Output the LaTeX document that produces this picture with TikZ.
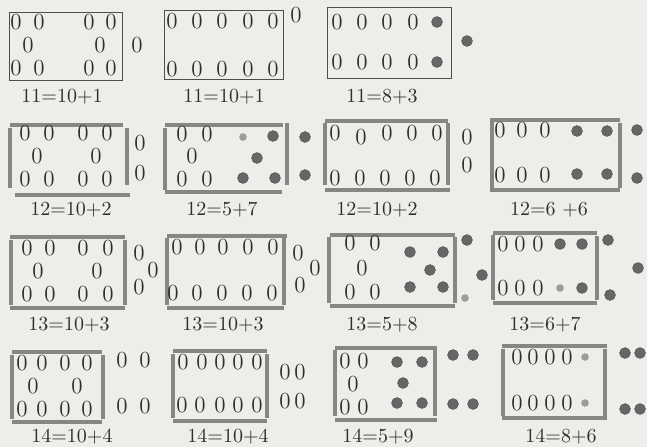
\documentclass[tikz,border=0pt]{standalone}
\definecolor{paper}{HTML}{EDEDEA}
\definecolor{ink}{HTML}{2E2E2E}
\definecolor{barc}{HTML}{868684}
\definecolor{dotc}{HTML}{666666}
\begin{document}
\begin{tikzpicture}[
  x=0.5pt,y=-0.5pt,
  ring/.style={inner sep=0pt,text=ink,font=\fontsize{11.5}{12}\selectfont},
  dot/.style={circle,inner sep=0pt,minimum size=5.4pt,fill=dotc,draw=dotc!85!black,line width=0.3pt},
  sdot/.style={circle,inner sep=0pt,minimum size=3.8pt,fill=dotc!65},
  lbl/.style={font=\fontsize{10}{12}\selectfont,text=ink},
  rim/.style={draw=ink!85,line width=0.5pt},
  bar/.style={draw=barc,line width=1.7pt},
]
\fill[paper] (0,0) rectangle (647,447);
\useasboundingbox (0,0) rectangle (647,447);

% ----- row 1 -----
\draw[rim] (9,12) rectangle (122,80);
\foreach \x/\y [count=\k] in {16/22,39/22,89/22,111/22,28/45,100/45,16/68,39/68,89/68,111/68,137/45}
  \node[ring] (a\k) at (\x,\y) {0};
\node[lbl] (la) at (62,97) {11=10+1};

\draw[rim] (164,10) rectangle (283,79);
\foreach \x/\y [count=\k] in {172/21,197/21,222/21,248/21,273/21,172/69,197/69,222/69,248/69,273/69,296/15}
  \node[ring] (b\k) at (\x,\y) {0};
\node[lbl] (lb) at (224,97) {11=10+1};

\draw[rim] (327,7) rectangle (451,78);
\foreach \x/\y [count=\k] in {337/22,362/22,387/22,413/22,337/62,362/62,387/62,413/62}
  \node[ring] (c\k) at (\x,\y) {0};
\foreach \x/\y [count=\k] in {437/22,437/62,467/41}
  \node[dot] (cd\k) at (\x,\y) {};
\node[lbl] (lc) at (382,97) {11=8+3};

% ----- row 2 -----
\draw[bar] (10,125) -- (123,125);
\draw[bar] (15,195) -- (130,195);
\draw[bar] (10,128) -- (10,188);
\draw[bar] (127,128) -- (127,185);
\foreach \x/\y [count=\k] in {25/133,49/133,83/133,107/133,37/156,96/156,25/179,49/179,83/179,107/179,140/143,140/173}
  \node[ring] (d\k) at (\x,\y) {0};
\node[lbl] (ld) at (71,210) {12=10+2};

\draw[bar] (165,125) -- (283,125);
\draw[bar] (165,192) -- (282,192);
\draw[bar] (165,128) -- (165,190);
\draw[bar] (287,123) -- (287,185);
\foreach \x/\y [count=\k] in {182/134,207/134,192/156,182/179,207/179}
  \node[ring] (e\k) at (\x,\y) {0};
\node[sdot] (es1) at (243,137) {};
\foreach \x/\y [count=\k] in {273/136,257/158,243/178,275/178,305/137,305/175}
  \node[dot] (ed\k) at (\x,\y) {};
\node[lbl] (le) at (222,210) {12=5+7};

\draw[bar] (325,121) -- (448,121);
\draw[bar] (325,190) -- (450,190);
\draw[bar] (325,123) -- (325,185);
\draw[bar] (448,123) -- (448,185);
\foreach \x/\y [count=\k] in {335/133,361/137,387/133,412/133,437/133,335/178,360/178,385/178,410/178,435/178,467/137,467/165}
  \node[ring] (f\k) at (\x,\y) {0};
\node[lbl] (lf) at (377,210) {12=10+2};

\draw[bar] (490,120) -- (620,120);
\draw[bar] (490,190) -- (620,190);
\draw[bar] (492,122) -- (492,188);
\draw[bar] (620,123) -- (620,188);
\foreach \x/\y [count=\k] in {500/130,522/130,545/130,500/175,522/175,545/175}
  \node[ring] (g\k) at (\x,\y) {0};
\foreach \x/\y [count=\k] in {577/131,607/131,577/174,607/174,637/130,637/178}
  \node[dot] (gd\k) at (\x,\y) {};
\node[lbl] (lg) at (549,210) {12=6 +6};

% ----- row 3 -----
\draw[bar] (10,237) -- (125,237);
\draw[bar] (10,308) -- (125,308);
\draw[bar] (11,240) -- (11,305);
\draw[bar] (125,240) -- (125,305);
\foreach \x/\y [count=\k] in {27/248,50/248,83/248,108/248,38/271,97/271,27/294,50/294,83/294,108/294,139/253,153/270,139/287}
  \node[ring] (h\k) at (\x,\y) {0};
\node[lbl] (lh) at (69,325) {13=10+3};

\draw[bar] (167,236) -- (287,236);
\draw[bar] (167,308) -- (284,308);
\draw[bar] (167,238) -- (167,305);
\draw[bar] (284,238) -- (284,305);
\foreach \x/\y [count=\k] in {177/247,200/247,223/247,248/247,273/247,173/293,197/293,222/293,247/293,272/293,298/253,315/268,300/285}
  \node[ring] (i\k) at (\x,\y) {0};
\node[lbl] (li) at (223,325) {13=10+3};

\draw[bar] (330,235) -- (455,235);
\draw[bar] (330,306) -- (455,306);
\draw[bar] (329,237) -- (329,303);
\draw[bar] (455,237) -- (455,303);
\foreach \x/\y [count=\k] in {350/243,375/243,362/268,350/292,375/292}
  \node[ring] (j\k) at (\x,\y) {0};
\foreach \x/\y [count=\k] in {410/252,443/252,430/270,410/287,443/287,467/240,482/275}
  \node[dot] (jd\k) at (\x,\y) {};
\node[sdot] (js1) at (465,298) {};
\node[lbl] (lj) at (382,325) {13=5+8};

\draw[bar] (493,233) -- (597,233);
\draw[bar] (493,303) -- (597,303);
\draw[bar] (493,235) -- (493,300);
\draw[bar] (597,236) -- (597,300);
\foreach \x/\y [count=\k] in {503/244,520/244,538/244,503/288,520/288,538/288}
  \node[ring] (k\k) at (\x,\y) {0};
\foreach \x/\y [count=\k] in {560/244,582/244,582/288,608/240,638/268,610/295}
  \node[dot] (kd\k) at (\x,\y) {};
\node[sdot] (ks1) at (560,288) {};
\node[lbl] (lk) at (545,325) {13=6+7};

% ----- row 4 -----
\draw[bar] (12,352) -- (102,352);
\draw[bar] (12,422) -- (102,422);
\draw[bar] (12,355) -- (12,419);
\draw[bar] (103,355) -- (103,419);
\foreach \x/\y [count=\k] in {22/363,42/363,65/363,87/363,33/386,77/386,22/409,42/409,65/409,87/409,122/360,145/360,122/406,145/406}
  \node[ring] (l\k) at (\x,\y) {0};
\node[lbl] (ll) at (72,437) {14=10+4};

\draw[bar] (173,351) -- (267,351);
\draw[bar] (173,421) -- (267,421);
\draw[bar] (173,354) -- (173,418);
\draw[bar] (267,354) -- (267,418);
\foreach \x/\y [count=\k] in {183/362,202/362,220/362,238/362,257/362,182/405,200/405,220/405,238/405,257/405,285/372,300/372,285/401,300/401}
  \node[ring] (m\k) at (\x,\y) {0};
\node[lbl] (lm) at (228,437) {14=10+4};

\draw[bar] (335,348) -- (437,348);
\draw[bar] (335,420) -- (437,420);
\draw[bar] (335,350) -- (335,416);
\draw[bar] (435,350) -- (435,416);
\foreach \x/\y [count=\k] in {345/361,363/361,353/384,345/407,363/407}
  \node[ring] (n\k) at (\x,\y) {0};
\foreach \x/\y [count=\k] in {397/362,422/362,403/383,397/403,422/403,453/355,473/355,453/404,473/404}
  \node[dot] (nd\k) at (\x,\y) {};
\node[lbl] (ln) at (378,437) {14=5+9};

\draw[bar] (502,346) -- (607,346);
\draw[bar] (502,418) -- (607,418);
\draw[bar] (503,349) -- (503,416);
\draw[bar] (605,349) -- (605,416);
\foreach \x/\y [count=\k] in {517/357,533/357,550/357,567/357,517/403,533/403,550/403,567/403}
  \node[ring] (o\k) at (\x,\y) {0};
\foreach \x/\y [count=\k] in {585/357,585/403}
  \node[sdot] (os\k) at (\x,\y) {};
\foreach \x/\y [count=\k] in {625/353,640/353,625/409,640/409}
  \node[dot] (od\k) at (\x,\y) {};
\node[lbl] (lo) at (561,437) {14=8+6};

\end{tikzpicture}
\end{document}
